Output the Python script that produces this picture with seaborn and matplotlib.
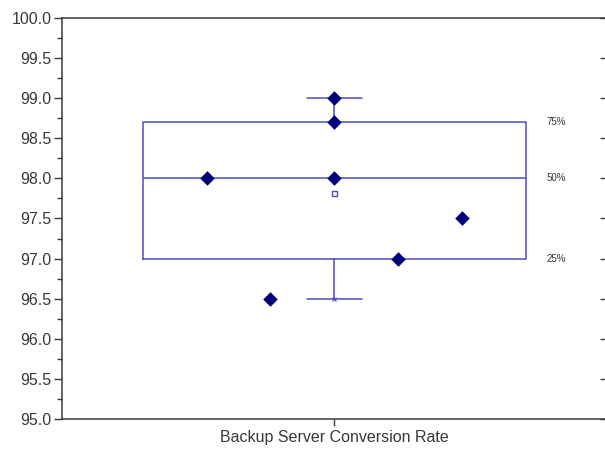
import numpy as np
import pandas as pd
import seaborn as sns
import matplotlib.pyplot as plt
from matplotlib.ticker import MultipleLocator, FormatStrFormatter

# data
values = [98.0, 96.5, 99.0, 98.7, 98.0, 97.0, 97.5]
slots = [-2, -1, 0, 0, 0, 1, 2]          # column of each point across the box
category = "Backup Server Conversion Rate"
pct_labels = ["75%", "50%", "25%"]

sns.set_style("ticks")
plt.rcParams['font.family'] = ['Liberation Sans', 'DejaVu Sans']

box_col = "#4d4dbd"
pt_col = "#00007a"
txt_col = "#383838"

fig = plt.figure(figsize=(6.05, 4.49), dpi=100)
ax = fig.add_axes([0.1025, 0.0668, 0.9000, 0.8932])

# Origin-style quartiles ((n+1)p rule)
q1, med, q3 = np.percentile(values, [25, 50, 75], method="weibull")
stats = [dict(med=med, q1=q1, q3=q3, whislo=min(values), whishi=max(values),
              mean=np.mean(values), fliers=[], label=category)]
line_kw = dict(color=box_col, linewidth=1.1)
ax.bxp(stats, positions=[0], widths=1.0, capwidths=0.145, showmeans=True,
       boxprops=line_kw, whiskerprops=line_kw, capprops=line_kw, medianprops=line_kw,
       meanprops=dict(marker="s", markersize=3.6, markerfacecolor="white",
                      markeredgecolor=box_col, markeredgewidth=1.0),
       manage_ticks=False)
ax.plot([0, 0], [min(values), max(values)], ls="none", marker="x",
        ms=3, mew=0.8, color=box_col)

df = pd.DataFrame({"slot": np.array(slots) / 6.0, "value": values})
sns.scatterplot(data=df, x="slot", y="value", marker="D", s=55, color=pt_col,
                edgecolor=pt_col, linewidth=0, ax=ax, zorder=5, legend=False)

for lab, y in zip(pct_labels, [q3, med, q1]):
    ax.text(0.555, y, lab, fontsize=7, color=txt_col, va="center", ha="left")

ax.set_xlim(-0.711, 0.711)
ax.set_ylim(95.0, 100.0)
ax.set_xticks([0])
ax.set_xticklabels([category])
ax.set_xlabel("")
ax.set_ylabel("")
ax.yaxis.set_major_locator(MultipleLocator(0.5))
ax.yaxis.set_minor_locator(MultipleLocator(0.25))
ax.yaxis.set_major_formatter(FormatStrFormatter("%.1f"))

for sp in ax.spines.values():
    sp.set_color("#3a3a3a")
    sp.set_linewidth(1.1)
ax.tick_params(axis="y", which="major", direction="out", length=5.5, width=1.0,
               color="#3a3a3a", labelsize=11.5, labelcolor=txt_col, pad=2,
               right=False)
ax.tick_params(axis="y", which="minor", direction="out", length=3.5, width=1.0,
               color="#3a3a3a", left=True, right=False)
ax.tick_params(axis="x", direction="out", length=5, width=1.0, color="#3a3a3a",
               labelsize=11.5, labelcolor=txt_col, pad=3)
# inward major ticks on the right spine
ax2 = ax.secondary_yaxis("right")
ax2.yaxis.set_major_locator(MultipleLocator(0.5))
ax2.tick_params(direction="in", length=5, width=1.0, color="#3a3a3a", labelright=False)

fig.savefig("out.png", dpi=100)
